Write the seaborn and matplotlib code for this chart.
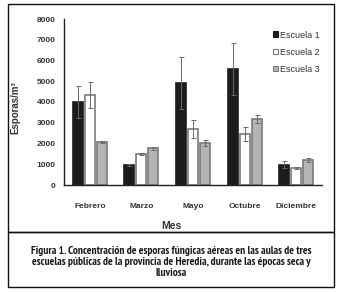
import pandas as pd
import seaborn as sns
import matplotlib.pyplot as plt
from matplotlib import font_manager
from matplotlib.patches import Rectangle, Patch

# -------------------------------
# Data
# -------------------------------
meses = ["Febrero", "Marzo", "Mayo", "Octubre", "Diciembre"]
escuelas = ["Escuela 1", "Escuela 2", "Escuela 3"]
escuela1 = [4010, 960, 4900, 5590, 980]
escuela2 = [4330, 1480, 2690, 2440, 830]
escuela3 = [2090, 1770, 2020, 3165, 1200]
err1 = [760, 30, 1250, 1240, 160]
err2 = [620, 40, 440, 340, 50]
err3 = [50, 60, 160, 195, 100]

valores = [escuela1, escuela2, escuela3]
errores = [err1, err2, err3]
rows = []
for esc, vals, errs in zip(escuelas, valores, errores):
    for mes, v, e in zip(meses, vals, errs):
        rows.append({"Mes": mes, "Escuela": esc, "Esporas": v, "err": e})
df = pd.DataFrame(rows)

# -------------------------------
# Style
# -------------------------------
sns.set_style("white")
plt.rcParams["font.family"] = ["Liberation Sans", "DejaVu Sans"]

# condensed font for the caption, first one that is installed
installed = {f.name for f in font_manager.fontManager.ttflist}
narrow = [n for n in ["PT Sans Narrow", "Roboto Condensed", "Open Sans Condensed",
                      "Archivo Narrow", "Asap Condensed"] if n in installed]
caption_font = narrow[:1] + ["Liberation Sans", "DejaVu Sans"]

fills = {"Escuela 1": "#1c1c1c", "Escuela 2": "#ffffff", "Escuela 3": "#b4b4b4"}
edges = {"Escuela 1": "#1c1c1c", "Escuela 2": "#7a7a7a", "Escuela 3": "#7a7a7a"}

fig = plt.figure(figsize=(3.42, 2.92), dpi=100)
ax = fig.add_axes([64 / 342, 1 - 185 / 292, 258 / 342, 166 / 292])

sns.barplot(data=df, x="Mes", y="Esporas", hue="Escuela", order=meses,
            hue_order=escuelas, palette=fills, errorbar=None,
            width=0.7, gap=0.17, linewidth=1.2, ax=ax, legend=False)

# recolor edges and add error bars per hue
for container, esc in zip(ax.containers, escuelas):
    sub = df[df["Escuela"] == esc].set_index("Mes").loc[meses]
    xs = []
    for bar in container:
        bar.set_edgecolor(edges[esc])
        xs.append(bar.get_x() + bar.get_width() / 2)
    ax.errorbar(xs, sub["Esporas"], yerr=sub["err"], fmt="none",
                ecolor="#6a6a6a", elinewidth=0.7, capsize=1.8, capthick=0.7)

ax.set_ylim(0, 8000)
ax.set_yticks(range(0, 8001, 1000))
ax.set_xlim(-0.5, 4.5)
sns.despine(ax=ax)
for s in ["left", "bottom"]:
    ax.spines[s].set_color("#222222")
    ax.spines[s].set_linewidth(1.0)
ax.tick_params(axis="both", length=0, labelsize=6, labelcolor="#333333")
ax.tick_params(axis="x", pad=13)
ax.tick_params(axis="y", pad=6)
for lab in ax.get_xticklabels() + ax.get_yticklabels():
    lab.set_fontweight("bold")
ax.set_xlabel("")
ax.set_ylabel("")

fig.text(15 / 342, 1 - 108 / 292, "Esporas/m³", rotation=90, ha="center",
         va="center", fontsize=7, fontweight="bold", color="#333333")
fig.text(171 / 342, 1 - 226 / 292, "Mes", ha="center", va="center",
         fontsize=7.5, fontweight="bold", color="#333333")

# legend
handles = [Patch(facecolor=fills[e], edgecolor=edges[e], linewidth=0.8) for e in escuelas]
fig.legend(handles, escuelas, loc="upper left", bbox_to_anchor=(268 / 342, 1 - 26 / 292),
           frameon=False, fontsize=6.5, handlelength=0.6, handleheight=0.6,
           handletextpad=0.2, labelspacing=0.9, borderpad=0, labelcolor="#333333")

# boxes around chart and caption
fig.patches.append(Rectangle((8 / 342, 1 - 232 / 292), 326 / 342, 228 / 292,
                             transform=fig.transFigure, fill=False,
                             edgecolor="#111111", linewidth=1.0))
fig.patches.append(Rectangle((8 / 342, 1 - 287 / 292), 326 / 342, 55 / 292,
                             transform=fig.transFigure, fill=False,
                             edgecolor="#111111", linewidth=1.0))

caption = ("Figura 1. Concentración de esporas fúngicas aéreas en las aulas de tres\n"
           "escuelas públicas de la provincia de Heredia, durante las épocas seca y\n"
           "lluviosa")
fig.text(171 / 342, 1 - 262 / 292, caption, ha="center", va="center",
         fontsize=8.1, fontweight="bold", linespacing=1.1,
         family=caption_font, color="#1a1a1a")

fig.savefig("out.png", dpi=100)
